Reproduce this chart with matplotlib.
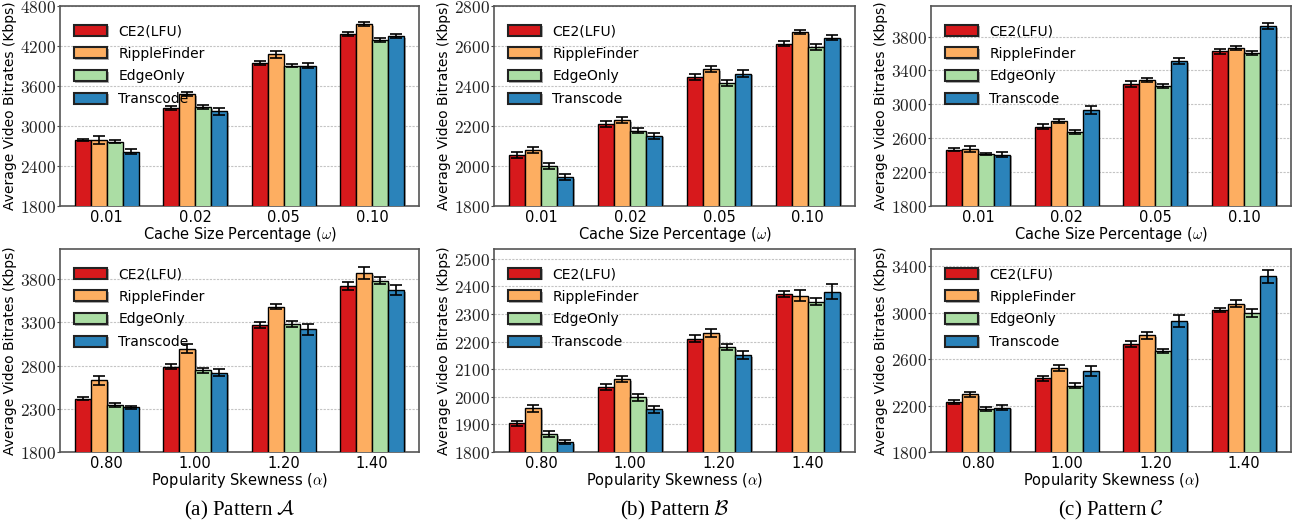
import numpy as np
import matplotlib
matplotlib.use("Agg")
import matplotlib.pyplot as plt
import matplotlib.patheffects as pe

plt.rcParams["font.family"]=["DejaVu Sans"]
plt.rcParams["mathtext.fontset"]="cm"

methods=["CE2(LFU)","RippleFinder","EdgeOnly","Transcode"]
colors=["#d7191c","#fdae61","#abdda4","#2b83ba"]

cache_labels=["0.01","0.02","0.05","0.10"]
skew_labels=["0.80","1.00","1.20","1.40"]

# pattern A, cache size
a_cache=[[2790,3270,3952,4376],
         [2795,3479,4077,4530],
         [2767,3280,3903,4291],
         [2617,3220,3903,4351]]
a_cache_err=[[20,25,30,30],[60,30,50,25],[20,30,20,25],[40,50,40,30]]

# pattern B, cache size
b_cache=[[2056,2211,2443,2611],
         [2081,2228,2483,2670],
         [2000,2177,2416,2596],
         [1945,2152,2462,2642]]
b_cache_err=[[15,15,15,12],[15,15,15,10],[15,12,15,15],[15,15,18,14]]

# pattern C, cache size
c_cache=[[2465,2737,3245,3628],
         [2470,2804,3288,3663],
         [2411,2671,3218,3605],
         [2407,2933,3511,3921]]
c_cache_err=[[15,25,35,30],[35,25,20,25],[10,20,20,25],[30,45,35,35]]

# pattern A, skewness
a_skew=[[2416,2786,3270,3722],
        [2630,2997,3484,3874],
        [2342,2747,3278,3781],
        [2318,2716,3219,3675]]
a_skew_err=[[15,30,35,45],[55,55,30,70],[20,30,35,40],[20,40,60,60]]

# pattern B, skewness
b_skew=[[1904,2036,2210,2372],
        [1958,2064,2230,2366],
        [1865,1998,2180,2344],
        [1835,1955,2151,2380]]
b_skew_err=[[10,12,13,10],[12,12,15,20],[10,12,12,12],[7,12,15,27]]

# pattern C, skewness
c_skew=[[2230,2434,2734,3025],
        [2296,2521,2806,3080],
        [2169,2371,2671,2999],
        [2183,2498,2930,3316]]
c_skew_err=[[20,25,25,20],[20,25,30,30],[15,20,20,35],[25,45,50,55]]

panels=[
    (a_cache,a_cache_err,cache_labels,r"Cache Size Percentage ($\omega$)",(1800,4800),[1800,2400,3000,3600,4200,4800]),
    (b_cache,b_cache_err,cache_labels,r"Cache Size Percentage ($\omega$)",(1800,2800),[1800,2000,2200,2400,2600,2800]),
    (c_cache,c_cache_err,cache_labels,r"Cache Size Percentage ($\omega$)",(1800,4160),[1800,2200,2600,3000,3400,3800]),
    (a_skew,a_skew_err,skew_labels,r"Popularity Skewness ($\alpha$)",(1800,4150),[1800,2300,2800,3300,3800]),
    (b_skew,b_skew_err,skew_labels,r"Popularity Skewness ($\alpha$)",(1800,2535),[1800,1900,2000,2100,2200,2300,2400,2500]),
    (c_skew,c_skew_err,skew_labels,r"Popularity Skewness ($\alpha$)",(1800,3550),[1800,2200,2600,3000,3400]),
]

captions=[r"(a) Pattern $\mathcal{A}$",r"(b) Pattern $\mathcal{B}$",r"(c) Pattern $\mathcal{C}$"]

W,H=1294,522
lefts=[60,494,931]
widths=[359,361,360]
tops=[6,249]
heights=[200,203]

fig=plt.figure(figsize=(W/100,H/100),dpi=100)

bar_w=0.18
shadow=[pe.SimplePatchShadow(offset=(1.2,-1.2),shadow_rgbFace="0.45",alpha=0.6),pe.Normal()]

for i,(vals,errs,xlabels,xlabel,ylim,yticks) in enumerate(panels):
    row=i//3
    col=i%3
    ax=fig.add_axes([lefts[col]/W,1-(tops[row]+heights[row])/H,widths[col]/W,heights[row]/H])
    x=np.arange(len(xlabels))
    for j,m in enumerate(methods):
        bars=ax.bar(x+(j-1.5)*bar_w,vals[j],bar_w,color=colors[j],edgecolor="black",linewidth=1,label=m,zorder=3)
        for b in bars:
            b.set_path_effects(shadow)
        ax.errorbar(x+(j-1.5)*bar_w,vals[j],yerr=errs[j],fmt="none",ecolor="black",elinewidth=1.2,capsize=4,capthick=1.2,zorder=4)
    ax.set_xlim(-0.53,3.53)
    ax.set_ylim(*ylim)
    ax.set_xticks(x)
    ax.set_xticklabels(xlabels,fontsize=10.5)
    ax.set_yticks(yticks)
    ax.set_yticklabels(["$%d$"%t for t in yticks],fontsize=12.5)
    ax.tick_params(axis="x",length=0,pad=3)
    ax.tick_params(axis="y",length=2,pad=1,colors="#444444",labelcolor="#222222")
    ax.grid(axis="y",linestyle=(0,(2,1.2)),color="#c4c4c4",linewidth=0.8,zorder=0)
    ax.set_axisbelow(True)
    for s in ax.spines.values():
        s.set_color("#555555")
        s.set_linewidth(1.2)
    ax.set_xlabel(xlabel,fontsize=10.5,labelpad=0)
    ax.set_ylabel("Average Video Bitrates (Kbps)",fontsize=10,labelpad=2)
    leg=ax.legend(loc="upper left",frameon=False,fontsize=10,handlelength=2.4,handleheight=0.85,
                  labelspacing=0.62,handletextpad=0.8,borderaxespad=0.9,bbox_to_anchor=(-0.012,1.0))
    for h in leg.legend_handles:
        h.set_edgecolor("#222222")
        h.set_linewidth(1.5)
    if row==1:
        fig.text((lefts[col]+widths[col]/2)/W,1-515/H,captions[col],ha="center",va="baseline",
                 fontsize=15,family="Liberation Serif")

fig.savefig("out.png",dpi=100)
